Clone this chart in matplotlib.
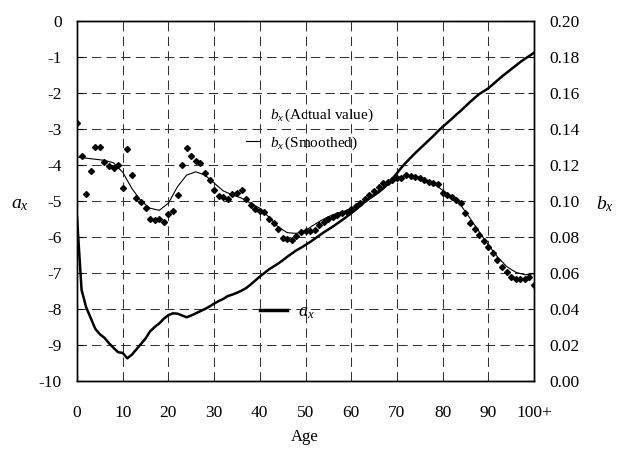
"""Lee-Carter style parameters: a_x (left axis) and b_x actual / smoothed (right axis)."""

import matplotlib

matplotlib.use("Agg")
import matplotlib.pyplot as plt
from matplotlib.lines import Line2D

plt.rcParams["font.family"] = "Liberation Serif"
plt.rcParams["mathtext.fontset"] = "custom"
plt.rcParams["mathtext.rm"] = "Liberation Serif"
plt.rcParams["mathtext.it"] = "Liberation Serif:italic"
plt.rcParams["axes.unicode_minus"] = False

AGES = list(range(0, 101))

A_X = [
    -5.45, -7.47, -7.95, -8.25, -8.55, -8.70, -8.80, -8.95, -9.08, -9.20,
    -9.22, -9.37, -9.27, -9.12, -8.97, -8.82, -8.62, -8.50, -8.40, -8.27,
    -8.17, -8.12, -8.13, -8.18, -8.23, -8.18, -8.12, -8.06, -8.00, -7.93,
    -7.85, -7.78, -7.72, -7.64, -7.60, -7.55, -7.49, -7.42, -7.32, -7.21,
    -7.10, -7.00, -6.90, -6.82, -6.74, -6.65, -6.55, -6.46, -6.37, -6.30,
    -6.22, -6.14, -6.05, -5.96, -5.87, -5.79, -5.71, -5.62, -5.53, -5.44,
    -5.34, -5.24, -5.13, -5.02, -4.92, -4.83, -4.74, -4.65, -4.52, -4.38,
    -4.23, -4.07, -3.93, -3.80, -3.67, -3.55, -3.43, -3.31, -3.19, -3.06,
    -2.94, -2.83, -2.72, -2.60, -2.49, -2.37, -2.25, -2.14, -2.03, -1.95,
    -1.87, -1.76, -1.65, -1.54, -1.44, -1.34, -1.24, -1.14, -1.05, -0.97,
    -0.88,
]

B_X_ACTUAL = [
    0.1436, 0.1250, 0.1038, 0.1168, 0.1302, 0.1302, 0.1218, 0.1194, 0.1182, 0.1200,
    0.1070, 0.1288, 0.1142, 0.1018, 0.0996, 0.0962, 0.0900, 0.0896, 0.0900, 0.0886,
    0.0926, 0.0946, 0.1034, 0.1200, 0.1292, 0.1252, 0.1222, 0.1212, 0.1154, 0.1116,
    0.1062, 0.1026, 0.1020, 0.1010, 0.1040, 0.1042, 0.1060, 0.1010, 0.0980, 0.0954,
    0.0942, 0.0938, 0.0900, 0.0880, 0.0844, 0.0792, 0.0788, 0.0784, 0.0806, 0.0830,
    0.0836, 0.0834, 0.0840, 0.0866, 0.0884, 0.0900, 0.0910, 0.0924, 0.0934, 0.0940,
    0.0956, 0.0970, 0.0988, 0.1010, 0.1034, 0.1056, 0.1080, 0.1098, 0.1106, 0.1116,
    0.1126, 0.1130, 0.1144, 0.1138, 0.1132, 0.1126, 0.1116, 0.1108, 0.1102, 0.1092,
    0.1046, 0.1034, 0.1020, 0.1006, 0.0988, 0.0936, 0.0876, 0.0842, 0.0812, 0.0780,
    0.0746, 0.0710, 0.0672, 0.0634, 0.0606, 0.0580, 0.0564, 0.0564, 0.0564, 0.0580,
    0.0536,
]

SMOOTH_AGES = list(range(0, 101, 2))
B_X_SMOOTHED = [
    0.1244, 0.1238, 0.1232, 0.1226, 0.1212, 0.1160, 0.1070, 0.1000, 0.0960, 0.0948,
    0.0988, 0.1080, 0.1144, 0.1162, 0.1144, 0.1100, 0.1056, 0.1034, 0.1016, 0.0988,
    0.0960, 0.0910, 0.0856, 0.0824, 0.0820, 0.0836, 0.0870, 0.0900, 0.0924, 0.0940,
    0.0954, 0.0980, 0.1010, 0.1044, 0.1088, 0.1128, 0.1142, 0.1140, 0.1124, 0.1096,
    0.1060, 0.1020, 0.0976, 0.0904, 0.0830, 0.0756, 0.0690, 0.0636, 0.0604, 0.0590,
    0.0596,
]

X_TICKS = list(range(0, 101, 10))
X_TICK_LABELS = ["0", "10", "20", "30", "40", "50", "60", "70", "80", "90", "100+"]
A_TICKS = list(range(-10, 1))
B_TICKS = [0.00, 0.02, 0.04, 0.06, 0.08, 0.10, 0.12, 0.14, 0.16, 0.18, 0.20]

GRID_STYLE = dict(color="#333333", linewidth=0.75, linestyle=(0, (9, 5)))


def main() -> None:
    fig = plt.figure(figsize=(6.2, 4.5), dpi=100)
    ax = fig.add_axes([77 / 620, 1 - 381 / 450, 457 / 620, 360 / 450])
    ax2 = ax.twinx()

    ax.plot(AGES, A_X, color="black", linewidth=1.8, zorder=3)
    ax2.plot(SMOOTH_AGES, B_X_SMOOTHED, color="black", linewidth=0.8, zorder=3)
    ax2.plot(AGES, B_X_ACTUAL, linestyle="none", marker="D", markersize=3.0,
             color="black", zorder=4)

    ax.set_xlim(0, 100)
    ax.set_ylim(-10, 0)
    ax2.set_ylim(0, 0.2)

    ax.set_xticks(X_TICKS)
    ax.set_xticklabels(X_TICK_LABELS)
    ax.set_yticks(A_TICKS)
    ax.set_yticklabels([str(t) for t in A_TICKS])
    ax2.set_yticks(B_TICKS)
    ax2.set_yticklabels([f"{t:.2f}" for t in B_TICKS])

    ax.tick_params(axis="x", length=0, pad=17, labelsize=12.5)
    ax.tick_params(axis="y", direction="in", length=4, pad=11, labelsize=12.5)
    ax2.tick_params(axis="y", direction="in", length=4, pad=11, labelsize=12.5)

    ax.grid(True, **GRID_STYLE)
    ax.set_axisbelow(True)
    for side in ax.spines.values():
        side.set_linewidth(1.0)
    for side in ax2.spines.values():
        side.set_linewidth(1.0)

    ax.set_ylabel(r"$a_x$", rotation=0, fontsize=14, ha="center", va="center")
    ax.yaxis.set_label_coords(-0.125, 0.49)
    ax2.set_ylabel(r"$b_x$", rotation=0, fontsize=14, ha="center", va="center")
    ax2.yaxis.set_label_coords(1.155, 0.49)
    ax.set_xlabel("Age", fontsize=12, va="center")
    ax.xaxis.set_label_coords(0.499, -0.155)

    b_handles = [
        Line2D([], [], linestyle="none", marker=""),
        Line2D([], [], color="black", linewidth=0.8),
    ]
    ax2.legend(b_handles, [r"$b_x\,$(Actual value)", r"$b_x\,$(Smoothed)"],
               loc="upper left", bbox_to_anchor=(246 / 620, 1 - 107 / 450),
               bbox_transform=fig.transFigure, frameon=False, fontsize=11,
               handlelength=0.9, handletextpad=0.7, labelspacing=0.65,
               borderpad=0, borderaxespad=0)

    a_handle = [Line2D([], [], color="black", linewidth=2.5)]
    leg_a = ax.legend(a_handle, [r"$a_x$"], loc="upper left",
                      bbox_to_anchor=(260 / 620, 1 - 303 / 450),
                      bbox_transform=fig.transFigure, frameon=False, fontsize=13,
                      handlelength=1.5, handletextpad=0.6,
                      borderpad=0, borderaxespad=0)
    leg_a.set_zorder(5)

    fig.savefig("out.png", dpi=100)
    plt.close(fig)


if __name__ == "__main__":
    main()
